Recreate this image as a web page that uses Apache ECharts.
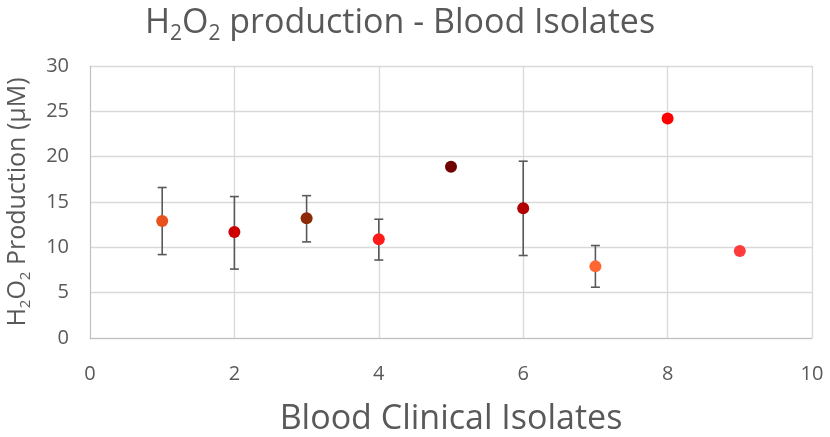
<!DOCTYPE html>
<html><head><meta charset="utf-8">
<script src="https://cdn.jsdelivr.net/npm/echarts@6/dist/echarts.min.js"></script>
<style>html,body{margin:0;padding:0;background:#fff}#c{width:830px;height:437px}</style>
</head><body><div id="c"></div>
<script>
var isolates = [1, 2, 3, 4, 5, 6, 7, 8, 9];
var production = [12.9, 11.7, 13.2, 10.9, 18.9, 14.3, 7.9, 24.2, 9.6];
var errHigh = [16.6, 15.6, 15.7, 13.1, null, 19.5, 10.2, null, null];
var errLow = [9.2, 7.6, 10.6, 8.6, null, 9.1, 5.6, null, null];
var pointColors = ['#e8501c', '#cc0000', '#8b2a05', '#ff1a1a', '#700000', '#b00000', '#ff6633', '#ff0000', '#ff3b3b'];

var FONT = 'Open Sans';
var GREY = '#595959';
var chart = echarts.init(document.getElementById('c'));
var pts = isolates.map(function (x, i) {
  return { value: [x, production[i]], itemStyle: { color: pointColors[i], opacity: 1 } };
});
var errData = [];
isolates.forEach(function (x, i) {
  if (errHigh[i] != null) errData.push([x, errLow[i], errHigh[i]]);
});
chart.setOption({
  animation: false,
  title: {
    text: '{a|H}{s|2}{a|O}{s|2}{a| production - Blood Isolates}',
    left: 400, top: 3, padding: 0, textAlign: 'center',
    textStyle: {
      fontWeight: 'normal',
      rich: {
        a: { fontFamily: FONT, fontSize: 34, fontWeight: 'normal', color: GREY, lineHeight: 40 },
        s: { fontFamily: FONT, fontSize: 21, fontWeight: 'normal', color: GREY, lineHeight: 16, padding: [22, 0, 0, 0] }
      }
    }
  },
  grid: { left: 90, right: 18, top: 66, bottom: 99, containLabel: false, outerBoundsMode: 'none' },
  xAxis: {
    type: 'value', min: 0, max: 10, interval: 2,
    name: 'Blood Clinical Isolates', nameLocation: 'middle', nameGap: 64,
    nameTextStyle: { fontFamily: FONT, fontSize: 34, color: GREY },
    axisLine: { show: true, lineStyle: { color: '#bfbfbf', width: 1 } },
    axisTick: { show: false },
    axisLabel: { fontFamily: FONT, fontSize: 20, color: GREY, margin: 26 },
    splitLine: { show: true, lineStyle: { color: '#d9d9d9', width: 1.3 } }
  },
  yAxis: {
    type: 'value', min: 0, max: 30, interval: 5,
    name: '{a|H}{s|2}{a|O}{s|2}{a| Production (µM)}', nameLocation: 'middle', nameGap: 57, nameRotate: 90,
    nameTextStyle: {
      rich: {
        a: { fontFamily: FONT, fontSize: 25, color: GREY, lineHeight: 30 },
        s: { fontFamily: FONT, fontSize: 15, color: GREY, lineHeight: 12, padding: [16, 0, 0, 0] }
      }
    },
    axisLine: { show: true, lineStyle: { color: '#bfbfbf', width: 1 } },
    axisTick: { show: false },
    axisLabel: { fontFamily: FONT, fontSize: 20, color: GREY, margin: 21 },
    splitLine: { show: true, lineStyle: { color: '#d9d9d9', width: 1.3 } }
  },
  series: [
    {
      type: 'custom',
      data: errData,
      z: 1,
      renderItem: function (params, api) {
        var x = api.value(0);
        var lo = api.coord([x, api.value(1)]);
        var hi = api.coord([x, api.value(2)]);
        var w = 4.5;
        var st = { stroke: GREY, lineWidth: 1.6 };
        return {
          type: 'group',
          children: [
            { type: 'line', shape: { x1: hi[0], y1: hi[1], x2: lo[0], y2: lo[1] }, style: st },
            { type: 'line', shape: { x1: hi[0] - w, y1: hi[1], x2: hi[0] + w, y2: hi[1] }, style: st },
            { type: 'line', shape: { x1: lo[0] - w, y1: lo[1], x2: lo[0] + w, y2: lo[1] }, style: st }
          ]
        };
      }
    },
    {
      type: 'scatter', data: pts, symbol: 'circle', symbolSize: 12, z: 3,
      itemStyle: { opacity: 1 }
    }
  ]
});
</script></body></html>
